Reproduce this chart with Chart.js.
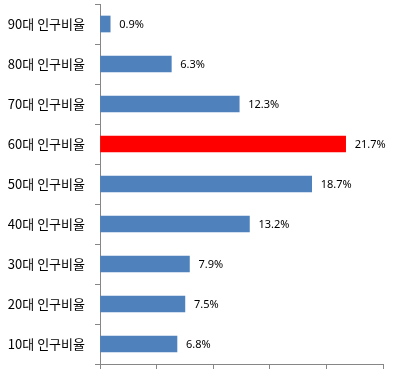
<!DOCTYPE html>
<html>
<head>
<meta charset="utf-8">
<script src="https://cdn.jsdelivr.net/npm/chart.js@4/dist/chart.umd.min.js"></script>
<style>
  body { margin: 0; background: #fff; }
  #wrap { width: 409px; height: 380px; }
</style>
</head>
<body>
<div id="wrap"><canvas id="ageChart" width="409" height="380"></canvas></div>
<script>
// age groups, top to bottom
const categories = ['90대 인구비율', '80대 인구비율', '70대 인구비율', '60대 인구비율', '50대 인구비율',
	'40대 인구비율', '30대 인구비율', '20대 인구비율', '10대 인구비율'];
const ratios = [0.9, 6.3, 12.3, 21.7, 18.7, 13.2, 7.9, 7.5, 6.8];
const highlight = '60대 인구비율';

const barColors = categories.map((c) => (c === highlight ? '#FF0000' : '#4F81BD'));

// draw "x.x%" after each bar
const valueLabels = {
	id: 'valueLabels',
	afterDatasetsDraw(chart) {
		const ctx = chart.ctx;
		const meta = chart.getDatasetMeta(0);
		ctx.save();
		ctx.font = '11px "Noto Sans", sans-serif';
		ctx.fillStyle = '#000';
		ctx.textAlign = 'left';
		ctx.textBaseline = 'middle';
		meta.data.forEach((bar, i) => {
			ctx.fillText(ratios[i].toFixed(1) + '%', bar.x + 9, bar.y + 1);
		});
		ctx.restore();
	},
};

const ctx = document.getElementById('ageChart').getContext('2d');
new Chart(ctx, {
	type: 'bar',
	data: {
		labels: categories,
		datasets: [
			{
				data: ratios,
				backgroundColor: barColors,
				borderWidth: 0,
				barThickness: 16,
			},
		],
	},
	options: {
		indexAxis: 'y',
		responsive: false,
		animation: false,
		layout: { padding: { top: 4, right: 26, bottom: 11, left: 0 } },
		plugins: {
			legend: { display: false },
			tooltip: { enabled: false },
		},
		scales: {
			x: {
				min: 0,
				max: 25,
				ticks: { stepSize: 5, display: false },
				grid: { drawOnChartArea: false, tickLength: 5, color: '#868686' },
				border: { color: '#868686' },
				afterFit: (scale) => { scale.paddingLeft = 0; scale.paddingRight = 0; },
			},
			y: {
				afterFit: (scale) => {
					scale.width = 100;
					scale.paddingTop = 0;
					scale.paddingBottom = 0;
				},
				ticks: {
					color: '#000',
					padding: 10,
					font: { family: '"Noto Sans CJK KR", sans-serif', size: 13 },
				},
				grid: { drawOnChartArea: false, tickLength: 5, color: '#868686', offset: true },
				border: { color: '#868686' },
			},
		},
	},
	plugins: [valueLabels],
});
</script>
</body>
</html>
